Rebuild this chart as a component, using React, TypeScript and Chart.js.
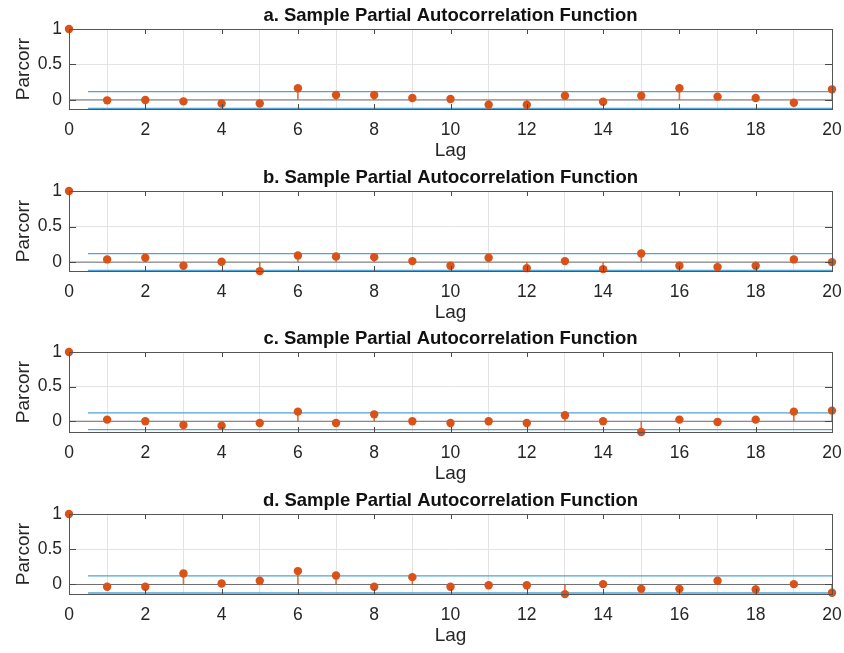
import React, { useEffect, useRef } from "react";
import { Chart, registerables } from "chart.js";

Chart.register(...registerables);

const lags = [0, 1, 2, 3, 4, 5, 6, 7, 8, 9, 10, 11, 12, 13, 14, 15, 16, 17, 18, 19, 20];
const xTicks = [0, 2, 4, 6, 8, 10, 12, 14, 16, 18, 20];
const yTicks = [0, 0.5, 1];

const titles = [
  "a. Sample Partial Autocorrelation Function",
  "b. Sample Partial Autocorrelation Function",
  "c. Sample Partial Autocorrelation Function",
  "d. Sample Partial Autocorrelation Function",
];

const pacfA = [1, -0.005, 0, -0.02, -0.05, -0.05, 0.165, 0.07, 0.07, 0.028, 0.014, -0.066, -0.066, 0.06, -0.024, 0.06, 0.165, 0.047, 0.028, -0.038, 0.15];
const pacfB = [1, 0.038, 0.061, -0.052, 0.005, -0.127, 0.094, 0.08, 0.07, 0.014, -0.052, 0.061, -0.085, 0.014, -0.099, 0.122, -0.052, -0.07, -0.052, 0.038, 0.0];
const pacfC = [1, 0.024, 0, -0.053, -0.063, -0.024, 0.139, -0.024, 0.1, 0, -0.024, 0, -0.024, 0.087, 0, -0.154, 0.024, -0.01, 0.024, 0.139, 0.154];
const pacfD = [1, -0.033, -0.033, 0.156, 0.014, 0.052, 0.19, 0.128, -0.033, 0.104, -0.033, -0.01, -0.01, -0.137, 0.005, -0.062, -0.062, 0.052, -0.071, 0.005, -0.118];

const bounds = [0.117, 0.118, 0.12, 0.121];
const yMins = [-0.127, -0.125, -0.155, -0.135];
const boundStart = 0.5;
const boundEnd = 20;

const series = [pacfA, pacfB, pacfC, pacfD];
const canvasTops = [0, 162, 323, 485];

const ORANGE = "#D95319";
const STEM = "rgba(217,83,25,0.8)";
const BLUE = "#4FA3D6";
const FONT = "'Liberation Sans', Arial, Helvetica, sans-serif";

const matlabBox = {
  id: "matlabBox",
  afterDraw(chart: any, _args: any, opts: any) {
    const { ctx, chartArea } = chart;
    const { left, right, top, bottom } = chartArea;
    const xs = chart.scales.x;
    const ys = chart.scales.y;
    ctx.save();
    ctx.strokeStyle = "#4a4a4a";
    ctx.lineWidth = 1;
    const tl = 5;
    ctx.beginPath();
    xs.ticks.forEach((t: any) => {
      const px = Math.round(xs.getPixelForValue(t.value)) + 0.5;
      ctx.moveTo(px, top);
      ctx.lineTo(px, top + tl);
      ctx.moveTo(px, bottom);
      ctx.lineTo(px, bottom - tl);
    });
    ys.ticks.forEach((t: any) => {
      const py = Math.round(ys.getPixelForValue(t.value)) + 0.5;
      ctx.moveTo(left, py);
      ctx.lineTo(left + tl + 2, py);
      ctx.moveTo(right, py);
      ctx.lineTo(right - tl - 2, py);
    });
    ctx.stroke();
    ctx.strokeStyle = "#555555";
    ctx.strokeRect(Math.round(left) + 0.5, Math.round(top) + 0.5, Math.round(right - left), Math.round(bottom - top));
    ctx.fillStyle = "#111111";
    ctx.font = `bold 18.5px ${FONT}`;
    ctx.textAlign = "center";
    ctx.textBaseline = "middle";
    ctx.fillText(opts.text || "", (left + right) / 2, top - 13);
    ctx.restore();
  },
};

function Panel({ idx }: { idx: number }) {
  const ref = useRef<HTMLCanvasElement | null>(null);
  useEffect(() => {
    if (!ref.current) return;
    const vals = series[idx];
    const b = bounds[idx];
    const chart = new Chart(ref.current, {
      type: "bar",
      data: {
        datasets: [
          {
            type: "line",
            data: [
              { x: 0, y: 0 },
              { x: 20, y: 0 },
            ],
            borderColor: "#6e6e6e",
            borderWidth: 1,
            pointRadius: 0,
            order: 5,
          },
          {
            type: "line",
            data: [
              { x: boundStart, y: b },
              { x: boundEnd, y: b },
            ],
            borderColor: BLUE,
            borderWidth: 1.3,
            pointRadius: 0,
            order: 4,
          },
          {
            type: "line",
            data: [
              { x: boundStart, y: -b },
              { x: boundEnd, y: -b },
            ],
            borderColor: BLUE,
            borderWidth: 1.3,
            pointRadius: 0,
            order: 4,
          },
          {
            type: "bar",
            data: lags.map((l, i) => ({ x: l, y: vals[i] })),
            backgroundColor: STEM,
            borderWidth: 0,
            barThickness: 1,
            order: 3,
          } as any,
          {
            type: "scatter",
            data: lags.map((l, i) => ({ x: l, y: vals[i] })),
            backgroundColor: ORANGE,
            borderColor: ORANGE,
            pointRadius: 4.2,
            pointBorderWidth: 0,
            showLine: false,
            clip: false,
            order: 1,
          } as any,
        ],
      },
      options: {
        animation: false,
        responsive: false,
        maintainAspectRatio: false,
        events: [],
        layout: { padding: { top: 29, right: 12, left: 0, bottom: 0 } },
        plugins: {
          legend: { display: false },
          tooltip: { enabled: false },
          title: { display: false },
          matlabBox: { text: titles[idx] },
        } as any,
        scales: {
          x: {
            type: "linear",
            min: 0,
            max: 20,
            offset: false,
            afterBuildTicks: (s: any) => {
              s.ticks = xTicks.map((v) => ({ value: v }));
            },
            afterFit: (s: any) => {
              s.height = 53;
              s.paddingLeft = 0;
              s.paddingRight = 0;
            },
            grid: { color: "#e3e3e3", drawTicks: false, lineWidth: 1 },
            border: { display: false },
            ticks: {
              padding: 11,
              color: "#262626",
              font: { family: FONT, size: 17.5 },
              maxRotation: 0,
            },
            title: {
              display: true,
              text: "Lag",
              color: "#262626",
              font: { family: FONT, size: 19 },
              padding: { top: 0, bottom: 0 },
            },
          },
          y: {
            type: "linear",
            min: yMins[idx],
            max: 1,
            afterBuildTicks: (s: any) => {
              s.ticks = yTicks.map((v) => ({ value: v }));
            },
            afterFit: (s: any) => {
              s.width = 69;
              s.paddingTop = 0;
              s.paddingBottom = 0;
            },
            grid: { color: "#e3e3e3", drawTicks: false, lineWidth: 1 },
            border: { display: false },
            ticks: {
              padding: 7,
              color: "#262626",
              font: { family: FONT, size: 17.5 },
              callback: (v: any) => String(v),
            },
            title: {
              display: true,
              text: "Parcorr",
              color: "#262626",
              font: { family: FONT, size: 19 },
              padding: { top: 12, bottom: 0 },
            },
          },
        },
      },
      plugins: [matlabBox],
    });
    return () => chart.destroy();
  }, [idx]);
  return (
    <canvas
      ref={ref}
      width={844}
      height={162}
      style={{ position: "absolute", left: 0, top: canvasTops[idx], width: 844, height: 162 }}
    />
  );
}

export default function App() {
  return (
    <div style={{ position: "fixed", left: 0, top: 0, width: 844, height: 653, background: "#ffffff", overflow: "hidden" }}>
      {[0, 1, 2, 3].map((i) => (
        <Panel key={i} idx={i} />
      ))}
    </div>
  );
}
